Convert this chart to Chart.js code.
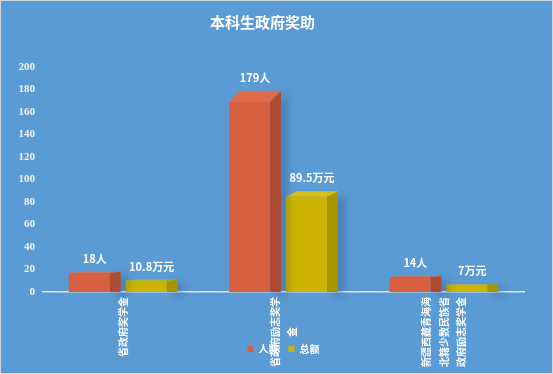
<!DOCTYPE html>
<html>
<head>
<meta charset="utf-8">
<script src="https://cdn.jsdelivr.net/npm/chart.js@4.4.1/dist/chart.umd.min.js"></script>
<style>
  html, body { margin: 0; padding: 0; background: #fff; }
  #wrap { width: 551px; height: 372px; border: 1px solid #cfd8e0; background: #5b9bd5; }
</style>
</head>
<body>
<div id="wrap"><canvas id="myChart" width="551" height="372"></canvas></div>
<script>
// chart data
const categories = [
    ['省政府奖学金'],
    ['省政府励志奖学', '金'],
    ['新疆西藏青海海', '北籍少数民族省', '政府励志奖学金']
];
const seriesNames = ['人数', '总额'];
const headcount = [18, 179, 14];
const amount = [10.8, 89.5, 7];
const units = ['人', '万元'];
const yMin = 0, yMax = 200, yStep = 20;

// front / side / top colours for each series
const faces = [
    { front: '#d6603f', side: '#b04b33', top: '#de6c4c' },
    { front: '#ccb300', side: '#a99500', top: '#d8c014' }
];

const cjk = '"Noto Sans CJK SC", "Noto Sans", sans-serif';

// draws each bar as a little 3d box, the back edge sits on the value
const bar3d = {
    id: 'bar3d',
    beforeDatasetDraw(chart, args) {
        const ctx = chart.ctx;
        const f = faces[args.index];
        args.meta.data.forEach(bar => {
            const p = bar.getProps(['x', 'y', 'base', 'width'], true);
            const depth = p.width * 0.21;
            const left = p.x - p.width / 2;
            const right = left + p.width - depth;
            const yf = p.y + (p.base - p.y) * 0.055;

            ctx.save();
            ctx.shadowColor = 'rgba(20,40,80,0.28)';
            ctx.shadowBlur = 8;
            ctx.shadowOffsetX = 6;
            ctx.shadowOffsetY = 3;
            ctx.fillStyle = f.side;
            ctx.beginPath();
            ctx.moveTo(right, yf);
            ctx.lineTo(right + depth, p.y);
            ctx.lineTo(right + depth, p.base);
            ctx.lineTo(right, p.base);
            ctx.closePath();
            ctx.fill();
            ctx.restore();

            ctx.fillStyle = f.front;
            ctx.fillRect(left, yf, right - left, p.base - yf);

            ctx.fillStyle = f.top;
            ctx.beginPath();
            ctx.moveTo(left, yf);
            ctx.lineTo(left + depth, p.y);
            ctx.lineTo(right + depth, p.y);
            ctx.lineTo(right, yf);
            ctx.closePath();
            ctx.fill();
        });
        return false;
    },
    afterDatasetsDraw(chart) {
        const ctx = chart.ctx;
        ctx.save();
        ctx.fillStyle = '#ffffff';
        ctx.font = 'bold 11px ' + cjk;
        ctx.textAlign = 'center';
        ctx.textBaseline = 'alphabetic';
        chart.data.datasets.forEach((ds, di) => {
            chart.getDatasetMeta(di).data.forEach((bar, i) => {
                ctx.fillText(ds.data[i] + units[di], bar.x, bar.y - 9);
            });
        });

        // vertical category labels under the axis
        const xs = chart.scales.x;
        const lh = 17.5;
        ctx.font = 'bold 10px ' + cjk;
        ctx.textBaseline = 'middle';
        chart.data.labels.forEach((lines, i) => {
            const px = xs.getPixelForValue(i);
            const len = Math.max(...lines.map(l => ctx.measureText(l).width));
            lines.forEach((line, j) => {
                ctx.save();
                ctx.translate(px + (j - (lines.length - 1) / 2) * lh, xs.top + 5 + len / 2);
                ctx.rotate(-Math.PI / 2);
                ctx.fillText(line, 0, 0);
                ctx.restore();
            });
        });
        ctx.restore();
    }
};

new Chart('myChart', {
    type: 'bar',
    data: {
        labels: categories,
        datasets: [
            { label: seriesNames[0], data: headcount, backgroundColor: faces[0].front },
            { label: seriesNames[1], data: amount, backgroundColor: faces[1].front }
        ]
    },
    options: {
        responsive: false,
        animation: false,
        categoryPercentage: 0.71,
        barPercentage: 0.91,
        layout: { padding: { left: 0, right: 28, top: 0, bottom: 9 } },
        plugins: {
            title: {
                display: true,
                text: '本科生政府奖助',
                color: '#ffffff',
                font: { family: cjk, size: 15, weight: 'bold' },
                padding: { top: 12, bottom: 36 }
            },
            legend: {
                position: 'bottom',
                fullSize: false,
                labels: {
                    color: '#ffffff',
                    font: { family: cjk, size: 10, weight: 'bold' },
                    boxWidth: 6,
                    boxHeight: 6,
                    padding: 10
                }
            },
            tooltip: { enabled: false }
        },
        scales: {
            x: {
                grid: { display: false, drawTicks: false },
                border: { color: '#dde7f1', width: 1.5 },
                ticks: { display: false },
                afterFit(scale) { scale.height = 42; }
            },
            y: {
                min: yMin,
                max: yMax,
                grid: { display: false, drawTicks: false },
                border: { display: false },
                ticks: {
                    stepSize: yStep,
                    color: '#f4f4f4',
                    padding: 8,
                    font: { family: '"Liberation Serif", serif', size: 11, weight: 'bold' }
                },
                afterFit(scale) { scale.width = 42; }
            }
        }
    },
    plugins: [bar3d]
});
</script>
</body>
</html>
